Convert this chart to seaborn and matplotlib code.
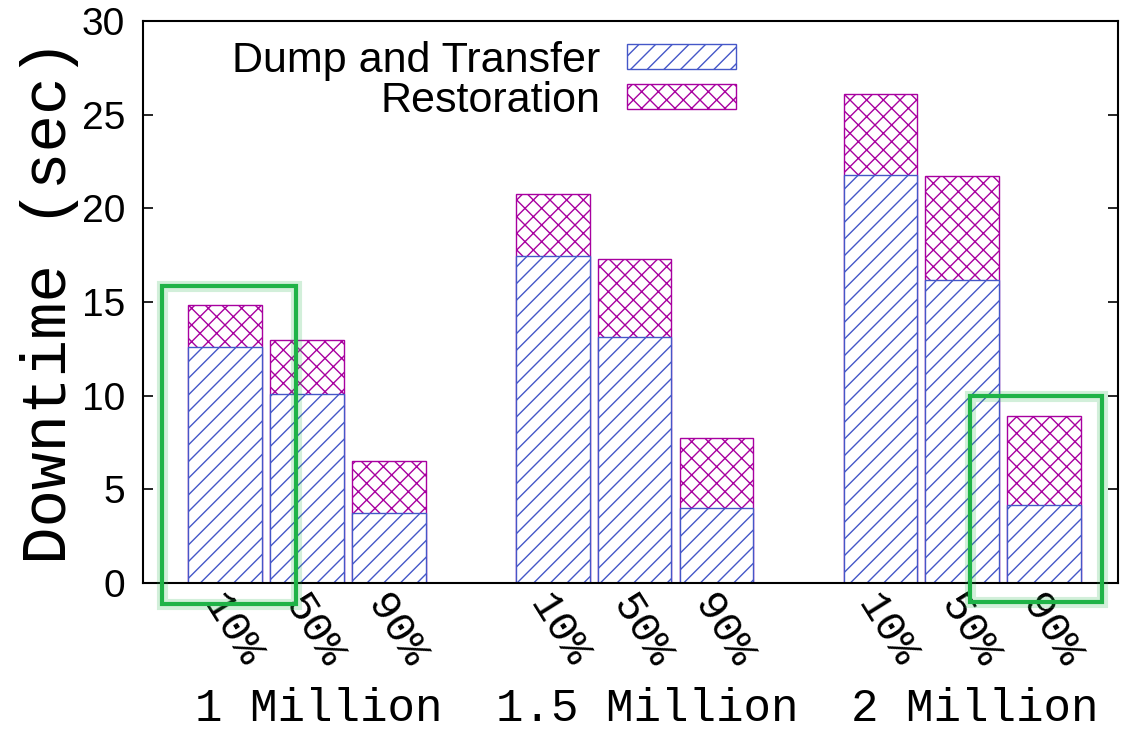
import matplotlib
matplotlib.use("Agg")
import matplotlib.pyplot as plt
from matplotlib.patches import Patch, Rectangle
from matplotlib.transforms import ScaledTranslation
import numpy as np
import pandas as pd
import seaborn as sns

# Downtime split into its two phases, per table size and update ratio
groups = ["1 Million", "1.5 Million", "2 Million"]
ratios = ["10%", "50%", "90%"]
dump_transfer = [12.6, 10.1, 3.75, 17.45, 13.15, 4.0, 21.8, 16.15, 4.15]
restoration = [2.25, 2.85, 2.75, 3.3, 4.15, 3.75, 4.3, 5.55, 4.75]

BLUE = "#4557c8"
MAGENTA = "#a8009f"
GREEN = "#1fb347"
MONO = "Liberation Mono"
SANS = "Liberation Sans"

sns.set_theme(style="white")
plt.rcParams["hatch.linewidth"] = 1.0
plt.rcParams["text.color"] = "black"
plt.rcParams["ytick.color"] = "black"
plt.rcParams["xtick.color"] = "black"

# bar slots: three bars per group, one empty slot between groups
pos = [g * 4 + i for g in range(len(groups)) for i in range(len(ratios))]
total = [d + r for d, r in zip(dump_transfer, restoration)]
df = pd.DataFrame({"pos": pos, "dump": dump_transfer, "total": total})

fig = plt.figure(figsize=(11.22, 7.29), dpi=100)
ax = fig.add_axes([0.1275, 0.2003, 0.8689, 0.7709])

# restoration stacked on top: draw full height first, dump bars cover the lower part
n0 = len(ax.patches)
sns.barplot(data=df, x="pos", y="total", native_scale=True, width=0.9, ax=ax)
for p in ax.patches[n0:]:
    p.set_facecolor("white")
    p.set_edgecolor(MAGENTA)
    p.set_hatch("xx")
    p.set_linewidth(1.0)
n1 = len(ax.patches)
sns.barplot(data=df, x="pos", y="dump", native_scale=True, width=0.9, ax=ax)
for p in ax.patches[n1:]:
    p.set_facecolor("white")
    p.set_edgecolor(BLUE)
    p.set_hatch("//")
    p.set_linewidth(1.0)

ax.set_xlim(-1.0, 10.9)
ax.set_ylim(0, 30)
ax.set_xlabel("")
ax.set_ylabel("Downtime (sec)", family=MONO, fontsize=45, labelpad=2, color="black")

ax.set_yticks(np.arange(0, 31, 5))
ax.tick_params(axis="y", which="both", direction="in", length=7, width=1.2,
               left=True, right=True, labelsize=28, pad=13)
for t in ax.get_yticklabels():
    t.set_family(SANS)

ax.set_xticks(pos)
ax.set_xticklabels(ratios * len(groups), rotation=-58, ha="left", va="center",
                   rotation_mode="anchor", family=MONO, fontsize=31)
ax.tick_params(axis="x", length=0, pad=11)
# nudge ratio labels slightly left of each bar centre
offset = ScaledTranslation(-14 / 100, 0, fig.dpi_scale_trans)
for t in ax.get_xticklabels():
    t.set_transform(t.get_transform() + offset)

for s in ax.spines.values():
    s.set_visible(True)
    s.set_color("black")
    s.set_linewidth(1.5)

# group captions under the ratio labels
for g, name in enumerate(groups):
    ax.text(g * 4 + 1.15, -0.245, name, transform=ax.get_xaxis_transform(),
            ha="center", va="baseline", family=MONO, fontsize=33, clip_on=False)

# highlight boxes with a soft glow
for (x0, x1, y0, y1) in [(-0.77, 0.87, -1.12, 15.86), (9.1, 10.71, -1.0, 9.98)]:
    for lw, a in [(8, 0.2), (3.0, 1.0)]:
        ax.add_patch(Rectangle((x0, y0), x1 - x0, y1 - y0, fill=False,
                               edgecolor=GREEN, linewidth=lw, alpha=a,
                               clip_on=False, zorder=5))

handles = [Patch(facecolor="white", edgecolor=BLUE, hatch="//", label="Dump and Transfer"),
           Patch(facecolor="white", edgecolor=MAGENTA, hatch="xx", label="Restoration")]
leg = ax.legend(handles=handles, loc="upper right", bbox_to_anchor=(0.613, 0.972),
                markerfirst=False, frameon=False, prop={"family": SANS, "size": 31},
                handlelength=2.55, handleheight=0.5, handletextpad=0.6,
                labelspacing=0.0, borderpad=0.1, borderaxespad=0)

fig.savefig("out.png", dpi=100)
